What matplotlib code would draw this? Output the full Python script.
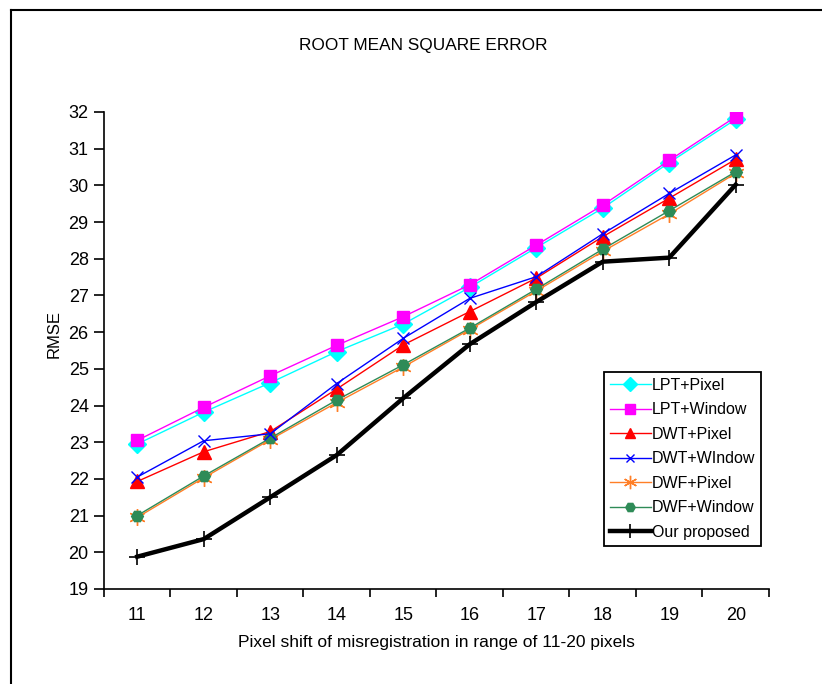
import numpy as np
import matplotlib
matplotlib.use("Agg")
import matplotlib.pyplot as plt
from matplotlib.lines import Line2D

plt.rcParams['font.family'] = ['Liberation Sans', 'DejaVu Sans']

# pixel shift (category axis)
shifts = [11, 12, 13, 14, 15, 16, 17, 18, 19, 20]

lpt_pixel = [22.95, 23.82, 24.62, 25.47, 26.22, 27.22, 28.30, 29.38, 30.62, 31.80]
lpt_window = [23.05, 23.95, 24.81, 25.64, 26.42, 27.29, 28.37, 29.46, 30.68, 31.87]
dwt_pixel = [21.93, 22.74, 23.29, 24.45, 25.65, 26.56, 27.47, 28.60, 29.65, 30.71]
dwt_window = [22.05, 23.04, 23.23, 24.60, 25.83, 26.92, 27.51, 28.68, 29.78, 30.83]
dwf_pixel = [20.95, 22.03, 23.07, 24.08, 25.05, 26.07, 27.12, 28.20, 29.22, 30.33]
dwf_window = [21.00, 22.08, 23.11, 24.15, 25.11, 26.11, 27.17, 28.26, 29.31, 30.37]
proposed = [19.88, 20.36, 21.50, 22.65, 24.20, 25.67, 26.82, 27.92, 28.03, 30.02]

y_ticks = [19, 20, 21, 22, 23, 24, 25, 26, 27, 28, 29, 30, 31, 32]

fig = plt.figure(figsize=(8.22, 6.84), dpi=100)
ax = fig.add_axes([0.1265, 0.1389, 0.809, 0.6974])

x = np.array(shifts)
ax.plot(x, lpt_pixel, color="#00FFFF", lw=1.0, marker="D", ms=9,
        mec="#00FFFF", label="LPT+Pixel", zorder=3)
ax.plot(x, lpt_window, color="#FF00FF", lw=1.0, marker="s", ms=8.5,
        mec="#FF00FF", label="LPT+Window", zorder=4)
ax.plot(x, dwt_pixel, color="#FF0000", lw=1.0, marker="^", ms=9.5,
        mec="#FF0000", label="DWT+Pixel", zorder=4)
ax.plot(x, dwt_window, color="#0000FF", lw=1.0, marker="x", ms=8,
        mew=1.0, label="DWT+WIndow", zorder=5)
ax.plot(x, dwf_pixel, color="#FF7F27", lw=1.0, marker=(6, 2, 0), ms=12,
        mew=1.0, label="DWF+Pixel", zorder=3)
ax.plot(x, dwf_window, color="#2E8B57", lw=1.0, marker="H", ms=8.5,
        mec="#2E8B57", label="DWF+Window", zorder=4)
ax.plot(x, proposed, color="black", lw=3.2, marker="+", ms=12,
        mew=1.2, label="Our proposed", zorder=6)

ax.set_xlim(10.5, 20.5)
ax.set_ylim(19, 32)
ax.set_yticks(y_ticks)
ax.set_xticks(x)
ax.set_xticks(np.arange(10.5, 21, 1.0), minor=True)
ax.tick_params(axis='x', which='major', length=0, pad=13, labelsize=13)
ax.tick_params(axis='x', which='minor', length=6, width=1.2, direction='out')
ax.tick_params(axis='y', which='major', length=7, width=1.2, direction='out',
               pad=4, labelsize=13)
for s in ['top', 'right']:
    ax.spines[s].set_visible(False)
for s in ['left', 'bottom']:
    ax.spines[s].set_linewidth(1.2)

ax.set_xlabel("Pixel shift of misregistration in range of 11-20 pixels",
              fontsize=12.5, labelpad=8)
fig.text(0.066, 0.512, "RMSE", rotation=90, fontsize=12,
         ha='center', va='center')
fig.text(0.515, 0.934, "ROOT MEAN SQUARE ERROR", fontsize=12.4,
         ha='center', va='center')

leg = ax.legend(loc='upper left', bbox_to_anchor=(0.752, 0.455),
                fontsize=11.5, handlelength=2.6, handletextpad=0.05,
                labelspacing=0.6, borderpad=0.35, frameon=True,
                fancybox=False, framealpha=1, borderaxespad=0,
                markerscale=0.8)
leg.get_frame().set_edgecolor('black')
leg.get_frame().set_linewidth(1.3)

# outer frame (left and top edges visible)
fig.add_artist(Line2D([11 / 822, 11 / 822], [0, 1 - 10 / 684],
                      color='black', lw=1.5, transform=fig.transFigure))
fig.add_artist(Line2D([11 / 822, 1], [1 - 10 / 684, 1 - 10 / 684],
                      color='black', lw=1.5, transform=fig.transFigure))

fig.savefig("out.png", dpi=100)
